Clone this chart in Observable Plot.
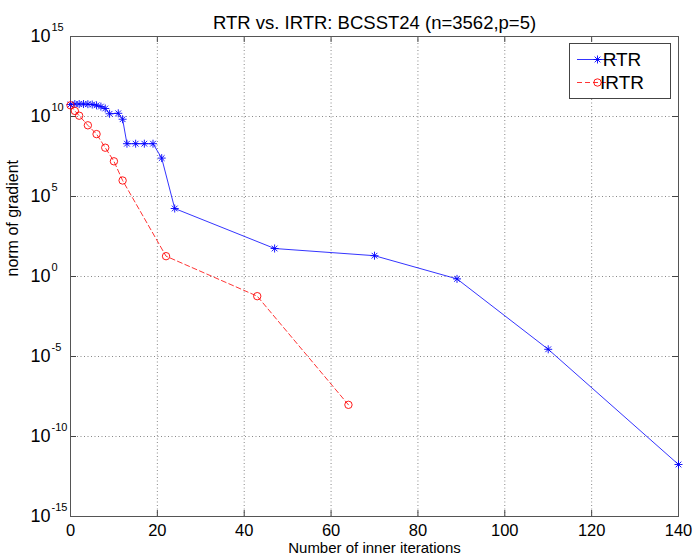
<!DOCTYPE html>
<html>
<head>
<meta charset="utf-8">
<script src="https://cdn.jsdelivr.net/npm/d3@7"></script>
<script src="https://cdn.jsdelivr.net/npm/@observablehq/plot@0.6"></script>
<style>
  html, body { margin: 0; padding: 0; background: #fff; }
  #chart svg { display: block; font-family: "Liberation Sans", Arial, sans-serif; }
</style>
</head>
<body>
<div id="chart"></div>
<script>
// ---- data (y stored as log10 of gradient norm) ----
const rtrIter = [0,1,2,3,4,5,6,7,8,9,11,12,13,15,17,19,21,24,47,70,89,110,140];
const rtrLog  = [10.75,10.78,10.78,10.78,10.77,10.75,10.7,10.62,10.5,10.17,10.2,9.83,8.3,8.3,8.3,8.3,7.4,4.25,1.75,1.3,-0.15,-4.55,-11.75];
const irtrIter = [0,1,2,4,6,8,10,12,22,43,64];
const irtrLog  = [10.7,10.35,10.05,9.45,8.9,8.05,7.2,6.0,1.27,-1.23,-8.02];

const xTicks = [0,20,40,60,80,100,120,140];
const yExps  = [-15,-10,-5,0,5,10,15];
const yTicks = yExps.map(e => Math.pow(10, e));
const legendLabels = ["RTR", "IRTR"];
const titleText = "RTR vs. IRTR: BCSST24 (n=3562,p=5)";
const xLabel = "Number of inner iterations";
const yLabel = "norm of gradient";

const rtr = rtrIter.map((x, i) => ({x, y: Math.pow(10, rtrLog[i])}));
const irtr = irtrIter.map((x, i) => ({x, y: Math.pow(10, irtrLog[i])}));

const W = 696, H = 558, mL = 70, mR = 18, mT = 36, mB = 42;
const pw = W - mL - mR, ph = H - mT - mB;
const BLUE = "#0000ff", RED = "#ff0000";
const grid = {stroke: "#888", strokeOpacity: 1, strokeWidth: 1, strokeDasharray: "1,2.5"};

const plot = Plot.plot({
  width: W, height: H,
  marginLeft: mL, marginRight: mR, marginTop: mT, marginBottom: mB,
  style: {fontFamily: "Liberation Sans, Arial, sans-serif", background: "#fff"},
  x: {domain: [0, 140]},
  y: {type: "log", domain: [1e-15, 1e15]},
  marks: [
    Plot.gridX(xTicks.slice(1, -1), grid),
    Plot.gridY(yTicks.slice(1, -1), grid),
    // inward ticks
    Plot.tickX(xTicks, {x: d => d, insetTop: ph - 6, stroke: "#444"}),
    Plot.tickX(xTicks, {x: d => d, insetBottom: ph - 6, stroke: "#444"}),
    Plot.tickY(yTicks, {y: d => d, insetRight: pw - 6, stroke: "#444"}),
    Plot.tickY(yTicks, {y: d => d, insetLeft: pw - 6, stroke: "#444"}),
    Plot.frame({stroke: "#555"}),
    // x tick labels
    Plot.axisX(xTicks, {tickSize: 0, tickPadding: 8, fontSize: 16.5, label: null, fill: "#000"}),
    Plot.axisY(yTicks, {tickSize: 0, tickFormat: () => "", label: null}),
    // y tick labels: 10 with superscript exponent
    Plot.text(yTicks, {y: d => d, text: () => "10", frameAnchor: "left", dx: -20, textAnchor: "end", fontSize: 18, fill: "#000"}),
    Plot.text(yExps, {y: d => Math.pow(10, d), text: d => String(d), frameAnchor: "left", dx: -19, dy: -9, textAnchor: "start", fontSize: 11, fill: "#000"}),
    // series
    Plot.line(rtr, {x: "x", y: "y", stroke: BLUE, strokeWidth: 0.8}),
    Plot.dot(rtr, {x: "x", y: "y", symbol: "plus", r: 2.7, stroke: BLUE, strokeWidth: 0.9}),
    Plot.dot(rtr, {x: "x", y: "y", symbol: "times", r: 2.7, stroke: BLUE, strokeWidth: 0.9}),
    Plot.line(irtr, {x: "x", y: "y", stroke: RED, strokeWidth: 0.8, strokeDasharray: "5,3"}),
    Plot.dot(irtr, {x: "x", y: "y", symbol: "circle", r: 3.7, stroke: RED, fill: "none", strokeWidth: 0.9}),
    // title and axis labels
    Plot.text([titleText], {frameAnchor: "top", dy: -21, fontSize: 18.5, fill: "#000"}),
    Plot.text([xLabel], {frameAnchor: "bottom", dy: 36, fontSize: 15, fill: "#000"}),
    Plot.text([yLabel], {frameAnchor: "left", dx: -58, rotate: -90, fontSize: 16, fill: "#000"})
  ]
});
document.getElementById("chart").appendChild(plot);

// legend box (top right, inside the axes)
const svg = d3.select(plot);
const lx = 569.5, ly = 43.5, lw = 101, lh = 55;
const g = svg.append("g");
g.append("rect").attr("x", lx).attr("y", ly).attr("width", lw).attr("height", lh)
  .attr("fill", "#fff").attr("stroke", "#444").attr("stroke-width", 1);
const rows = [
  {label: legendLabels[0], y: 59.5, color: BLUE, dash: null, sym: "star"},
  {label: legendLabels[1], y: 82.5, color: RED, dash: "5,3", sym: "circle"}
];
rows.forEach(r => {
  g.append("line").attr("x1", 577).attr("x2", 617).attr("y1", r.y).attr("y2", r.y)
    .attr("stroke", r.color).attr("stroke-width", 0.8).attr("stroke-dasharray", r.dash);
  if (r.sym === "star") {
    g.append("path").attr("transform", `translate(597.5,${r.y})`)
      .attr("d", d3.symbol(d3.symbolPlus, 2.7 * 2.7 * Math.PI)())
      .attr("fill", "none").attr("stroke", r.color).attr("stroke-width", 0.9);
    g.append("path").attr("transform", `translate(597.5,${r.y})`)
      .attr("d", d3.symbol(d3.symbolTimes, 2.7 * 2.7 * Math.PI)())
      .attr("fill", "none").attr("stroke", r.color).attr("stroke-width", 0.9);
  } else {
    g.append("circle").attr("cx", 597.5).attr("cy", r.y).attr("r", 3.7)
      .attr("fill", "none").attr("stroke", r.color).attr("stroke-width", 0.9);
  }
  g.append("text").attr("x", 622).attr("y", r.y).attr("dy", "0.36em")
    .attr("font-size", 19).attr("fill", "#000").text(r.label);
});
</script>
</body>
</html>
